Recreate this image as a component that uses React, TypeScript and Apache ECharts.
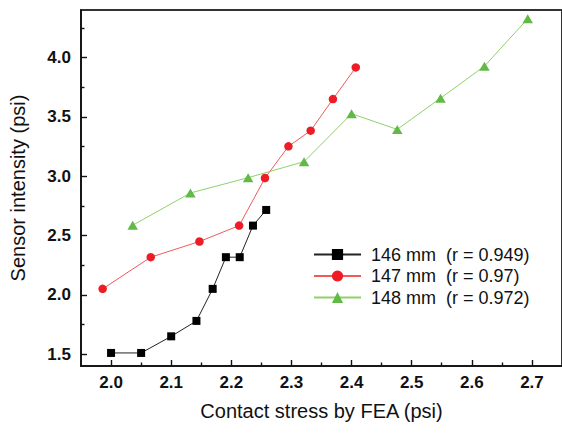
import React, { useEffect, useRef } from "react";
import * as echarts from "echarts";

const series146X = [2.0, 2.05, 2.1, 2.142, 2.169, 2.191, 2.214, 2.236, 2.258];
const series146Y = [1.51, 1.51, 1.65, 1.78, 2.05, 2.317, 2.317, 2.583, 2.715];

const series147X = [1.986, 2.066, 2.147, 2.213, 2.256, 2.295, 2.332, 2.369, 2.407];
const series147Y = [2.05, 2.317, 2.449, 2.583, 2.984, 3.251, 3.383, 3.649, 3.916];

const series148X = [2.036, 2.132, 2.228, 2.321, 2.4, 2.476, 2.548, 2.621, 2.693];
const series148Y = [2.586, 2.858, 2.987, 3.122, 3.526, 3.394, 3.657, 3.927, 4.326];

const legendNames = ["146 mm  (r = 0.949)", "147 mm  (r = 0.97)", "148 mm  (r = 0.972)"];

const xMajorTicks = [2.0, 2.1, 2.2, 2.3, 2.4, 2.5, 2.6, 2.7];
const xMinorTicks = [2.05, 2.15, 2.25, 2.35, 2.45, 2.55, 2.65];
const yMajorTicks = [1.5, 2.0, 2.5, 3.0, 3.5, 4.0];
const yMinorTicks = [1.75, 2.25, 2.75, 3.25, 3.75, 4.25];

const X_MIN = 1.95;
const X_MAX = 2.75;
const Y_MIN = 1.4;
const Y_MAX = 4.4;

const FONT = "'Liberation Sans', Arial, sans-serif";

function zip(xs: number[], ys: number[]) {
  return xs.map((x, i) => [x, ys[i]]);
}

export default function App() {
  const ref = useRef<HTMLDivElement>(null);
  useEffect(() => {
    document.body.style.margin = "0";
    if (!ref.current) return;
    const chart = echarts.init(ref.current, undefined, { renderer: "svg" });
    const axisLine = { show: true, lineStyle: { color: "#111", width: 1.6 } };
    const majorX = {
      type: "value",
      min: X_MIN,
      max: X_MAX,
      position: "bottom",
      name: "Contact stress by FEA (psi)",
      nameLocation: "middle",
      nameGap: 35,
      nameTextStyle: { fontSize: 20, fontFamily: FONT, color: "#111" },
      axisLine,
      axisTick: { show: true, inside: true, length: 6, customValues: xMajorTicks, lineStyle: { color: "#111", width: 1.4 } },
      axisLabel: {
        show: true,
        customValues: xMajorTicks,
        formatter: (v: number) => v.toFixed(1),
        fontSize: 17,
        fontWeight: "bold",
        fontFamily: FONT,
        color: "#111",
        margin: 8,
      },
      splitLine: { show: false },
    };
    const minorX = {
      type: "value",
      min: X_MIN,
      max: X_MAX,
      position: "bottom",
      axisLine: { show: false },
      axisTick: { show: true, inside: true, length: 3.5, customValues: xMinorTicks, lineStyle: { color: "#111", width: 1.4 } },
      axisLabel: { show: false },
      splitLine: { show: false },
    };
    const majorY = {
      type: "value",
      min: Y_MIN,
      max: Y_MAX,
      position: "left",
      name: "Sensor intensity (psi)",
      nameLocation: "middle",
      nameGap: 53,
      nameTextStyle: { fontSize: 20, fontFamily: FONT, color: "#111" },
      axisLine,
      axisTick: { show: true, inside: true, length: 6, customValues: yMajorTicks, lineStyle: { color: "#111", width: 1.4 } },
      axisLabel: {
        show: true,
        customValues: yMajorTicks,
        formatter: (v: number) => v.toFixed(1),
        fontSize: 17,
        fontWeight: "bold",
        fontFamily: FONT,
        color: "#111",
        margin: 10,
      },
      splitLine: { show: false },
    };
    const minorY = {
      type: "value",
      min: Y_MIN,
      max: Y_MAX,
      position: "left",
      axisLine: { show: false },
      axisTick: { show: true, inside: true, length: 3.5, customValues: yMinorTicks, lineStyle: { color: "#111", width: 1.4 } },
      axisLabel: { show: false },
      splitLine: { show: false },
    };
    chart.setOption({
      animation: false,
      backgroundColor: "#fff",
      grid: {
        left: 80,
        right: -3,
        top: 10,
        bottom: 67,
        show: true,
        borderColor: "#333",
        borderWidth: 2,
        backgroundColor: "transparent",
      },
      xAxis: [majorX, minorX],
      yAxis: [majorY, minorY],
      legend: {
        orient: "vertical",
        left: 308,
        top: 240,
        itemWidth: 47,
        itemHeight: 14,
        itemGap: 2.5,
        data: legendNames,
        textStyle: { fontSize: 18, fontFamily: FONT, color: "#111", lineHeight: 19, padding: [0, 0, 0, 5] },
      },
      series: [
        {
          name: legendNames[0],
          type: "line",
          xAxisIndex: 0,
          yAxisIndex: 0,
          data: zip(series146X, series146Y),
          symbol: "rect",
          symbolSize: 8,
          itemStyle: { color: "#000" },
          lineStyle: { color: "#222", width: 1 },
        },
        {
          name: legendNames[1],
          type: "line",
          xAxisIndex: 0,
          yAxisIndex: 0,
          data: zip(series147X, series147Y),
          symbol: "circle",
          symbolSize: 8.5,
          itemStyle: { color: "#ee1c25" },
          lineStyle: { color: "#f05a5a", width: 1 },
        },
        {
          name: legendNames[2],
          type: "line",
          xAxisIndex: 0,
          yAxisIndex: 0,
          data: zip(series148X, series148Y),
          symbol: "triangle",
          symbolSize: [10.5, 9],
          itemStyle: { color: "#62b946" },
          lineStyle: { color: "#8fd06c", width: 1 },
        },
      ],
    });
    return () => chart.dispose();
  }, []);
  return <div ref={ref} style={{ width: 562, height: 433 }} />;
}
